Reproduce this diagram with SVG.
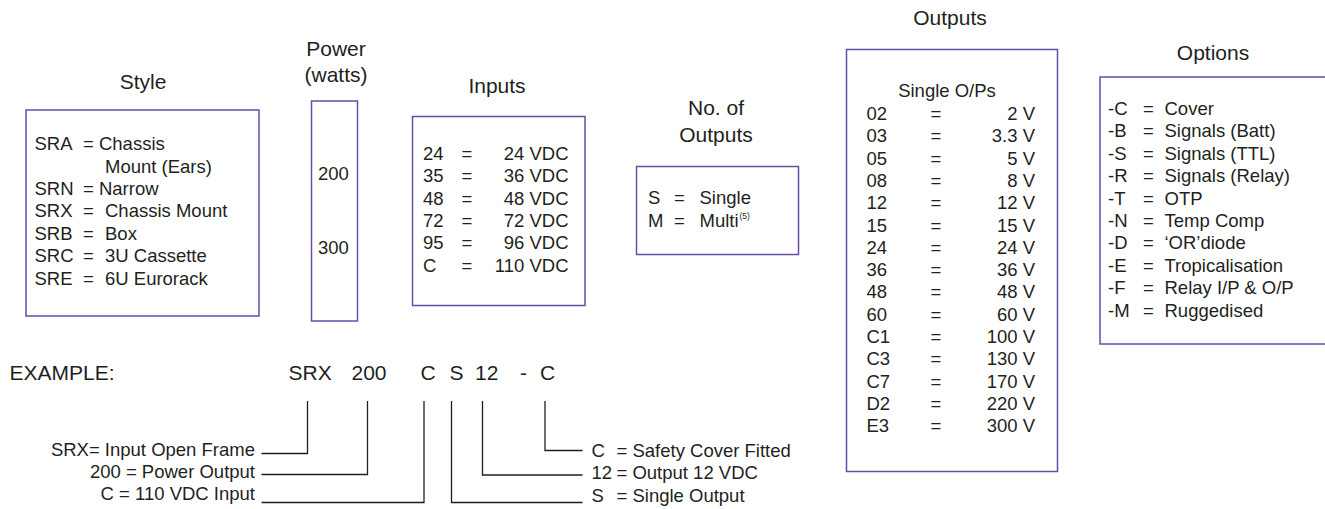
<svg xmlns="http://www.w3.org/2000/svg" width="1325" height="509" viewBox="0 0 1325 509">
<style>
text{font-family:"Liberation Sans",Arial,sans-serif;fill:#231f20}
.t{font-size:21px;text-anchor:middle}
.b{font-size:18.5px}
.r{text-anchor:end}
.m{text-anchor:middle}
.box{fill:#fff;stroke:#6a4ca6;stroke-width:1.5}
.ln{fill:none;stroke:#231f20;stroke-width:1.3}
.ex{font-size:21px}
</style>
<rect width="1325" height="509" fill="#fff"/>
<g id="style">
<text class="t" x="143" y="89">Style</text>
<rect class="box" x="26" y="110" width="233" height="206"/>
<g class="b">
<text x="34.5" y="150">SRA</text><text x="83" y="150">= Chassis</text>
<text x="105" y="172.5">Mount (Ears)</text>
<text x="34.5" y="195">SRN</text><text x="83" y="195">= Narrow</text>
<text x="34.5" y="217">SRX</text><text x="83" y="217">=</text><text x="105" y="217">Chassis Mount</text>
<text x="34.5" y="239.5">SRB</text><text x="83" y="239.5">=</text><text x="105" y="239.5">Box</text>
<text x="34.5" y="262">SRC</text><text x="83" y="262">=</text><text x="105" y="262">3U Cassette</text>
<text x="34.5" y="284.5">SRE</text><text x="83" y="284.5">=</text><text x="105" y="284.5">6U Eurorack</text>
</g>
</g>
<g id="power">
<text class="t" x="336" y="56">Power</text>
<text class="t" x="336" y="82">(watts)</text>
<rect class="box" x="311.5" y="101" width="46" height="220"/>
<text class="b" x="318" y="179.5">200</text>
<text class="b" x="318" y="253.5">300</text>
</g>
<g id="inputs">
<text class="t" x="497" y="93">Inputs</text>
<rect class="box" x="412.5" y="116.5" width="172.5" height="189"/>
<g class="b">
<text x="423" y="160">24</text><text x="461.5" y="160">=</text><text class="r" x="568.5" y="160">24 VDC</text>
<text x="423" y="182">35</text><text x="461.5" y="182">=</text><text class="r" x="568.5" y="182">36 VDC</text>
<text x="423" y="204.5">48</text><text x="461.5" y="204.5">=</text><text class="r" x="568.5" y="204.5">48 VDC</text>
<text x="423" y="226.5">72</text><text x="461.5" y="226.5">=</text><text class="r" x="568.5" y="226.5">72 VDC</text>
<text x="423" y="249">95</text><text x="461.5" y="249">=</text><text class="r" x="568.5" y="249">96 VDC</text>
<text x="423" y="271.5">C</text><text x="461.5" y="271.5">=</text><text class="r" x="568.5" y="271.5">110 VDC</text>
</g>
</g>
<g id="numoutputs">
<text class="t" x="716" y="115">No. of</text>
<text class="t" x="716" y="141.5">Outputs</text>
<rect class="box" x="636.5" y="166.5" width="162" height="88"/>
<g class="b">
<text x="648" y="203.5">S</text><text x="674" y="203.5">=</text><text x="699.5" y="203.5">Single</text>
<text x="648" y="226.5">M</text><text x="674" y="226.5">=</text><text x="699.5" y="226.5">Multi</text>
</g>
<text x="739.5" y="219" font-size="8.5">(5)</text>
</g>
<g id="outputs">
<text class="t" x="950" y="25">Outputs</text>
<rect class="box" x="846.5" y="49.5" width="211" height="422"/>
<text class="b m" x="947" y="96.5">Single O/Ps</text>
<g class="b">
<text x="866.5" y="120">02</text><text class="m" x="936" y="120">=</text><text class="r" x="1035" y="120">2 V</text>
<text x="866.5" y="142.3">03</text><text class="m" x="936" y="142.3">=</text><text class="r" x="1035" y="142.3">3.3 V</text>
<text x="866.5" y="164.6">05</text><text class="m" x="936" y="164.6">=</text><text class="r" x="1035" y="164.6">5 V</text>
<text x="866.5" y="186.9">08</text><text class="m" x="936" y="186.9">=</text><text class="r" x="1035" y="186.9">8 V</text>
<text x="866.5" y="209.2">12</text><text class="m" x="936" y="209.2">=</text><text class="r" x="1035" y="209.2">12 V</text>
<text x="866.5" y="231.5">15</text><text class="m" x="936" y="231.5">=</text><text class="r" x="1035" y="231.5">15 V</text>
<text x="866.5" y="253.8">24</text><text class="m" x="936" y="253.8">=</text><text class="r" x="1035" y="253.8">24 V</text>
<text x="866.5" y="276.1">36</text><text class="m" x="936" y="276.1">=</text><text class="r" x="1035" y="276.1">36 V</text>
<text x="866.5" y="298.4">48</text><text class="m" x="936" y="298.4">=</text><text class="r" x="1035" y="298.4">48 V</text>
<text x="866.5" y="320.7">60</text><text class="m" x="936" y="320.7">=</text><text class="r" x="1035" y="320.7">60 V</text>
<text x="866.5" y="343">C1</text><text class="m" x="936" y="343">=</text><text class="r" x="1035" y="343">100 V</text>
<text x="866.5" y="365.3">C3</text><text class="m" x="936" y="365.3">=</text><text class="r" x="1035" y="365.3">130 V</text>
<text x="866.5" y="387.6">C7</text><text class="m" x="936" y="387.6">=</text><text class="r" x="1035" y="387.6">170 V</text>
<text x="866.5" y="409.9">D2</text><text class="m" x="936" y="409.9">=</text><text class="r" x="1035" y="409.9">220 V</text>
<text x="866.5" y="432.2">E3</text><text class="m" x="936" y="432.2">=</text><text class="r" x="1035" y="432.2">300 V</text>
</g>
</g>
<g id="options">
<text class="t" x="1213" y="60">Options</text>
<rect class="box" x="1100" y="77" width="240" height="267"/>
<g class="b">
<text x="1108" y="115">-C</text><text x="1143" y="115">=</text><text x="1164.5" y="115">Cover</text>
<text x="1108" y="137.4">-B</text><text x="1143" y="137.4">=</text><text x="1164.5" y="137.4">Signals (Batt)</text>
<text x="1108" y="159.8">-S</text><text x="1143" y="159.8">=</text><text x="1164.5" y="159.8">Signals (TTL)</text>
<text x="1108" y="182.2">-R</text><text x="1143" y="182.2">=</text><text x="1164.5" y="182.2">Signals (Relay)</text>
<text x="1108" y="204.6">-T</text><text x="1143" y="204.6">=</text><text x="1164.5" y="204.6">OTP</text>
<text x="1108" y="227">-N</text><text x="1143" y="227">=</text><text x="1164.5" y="227">Temp Comp</text>
<text x="1108" y="249.4">-D</text><text x="1143" y="249.4">=</text><text x="1164.5" y="249.4">‘OR’diode</text>
<text x="1108" y="271.8">-E</text><text x="1143" y="271.8">=</text><text x="1164.5" y="271.8">Tropicalisation</text>
<text x="1108" y="294.2">-F</text><text x="1143" y="294.2">=</text><text x="1164.5" y="294.2">Relay I/P &amp; O/P</text>
<text x="1108" y="316.6">-M</text><text x="1143" y="316.6">=</text><text x="1164.5" y="316.6">Ruggedised</text>
</g>
</g>
<g id="example">
<text class="ex" x="9.5" y="379.5">EXAMPLE:</text>
<text class="ex" x="288.5" y="379.5">SRX</text>
<text class="ex" x="351.5" y="379.5">200</text>
<text class="ex" x="420.5" y="379.5">C</text>
<text class="ex" x="449.5" y="379.5">S</text>
<text class="ex" x="475" y="379.5">12</text>
<text class="ex" x="520" y="379.5">-</text>
<text class="ex" x="540" y="379.5">C</text>
</g>
<g id="labels" class="b">
<text class="r" x="255" y="456">SRX= Input Open Frame</text>
<text class="r" x="255" y="478">200 = Power Output</text>
<text class="r" x="255" y="500">C = 110 VDC Input</text>
<text x="591.5" y="456.5">C</text><text x="616.5" y="456.5">= Safety Cover Fitted</text>
<text x="591.5" y="479">12</text><text x="616.5" y="479">= Output 12 VDC</text>
<text x="591.5" y="501.5">S</text><text x="616.5" y="501.5">= Single Output</text>
</g>
<g id="connectors" class="ln">
<polyline points="307.5,401 307.5,453.5 261.5,453.5"/>
<polyline points="367.5,401 367.5,474.5 261.5,474.5"/>
<polyline points="424,401 424,502.5 261.5,502.5"/>
<polyline points="451.5,401 451.5,502.5 582.5,502.5"/>
<polyline points="482.5,401 482.5,475 582.5,475"/>
<polyline points="545,401 545,450.5 582.5,450.5"/>
</g>
</svg>
